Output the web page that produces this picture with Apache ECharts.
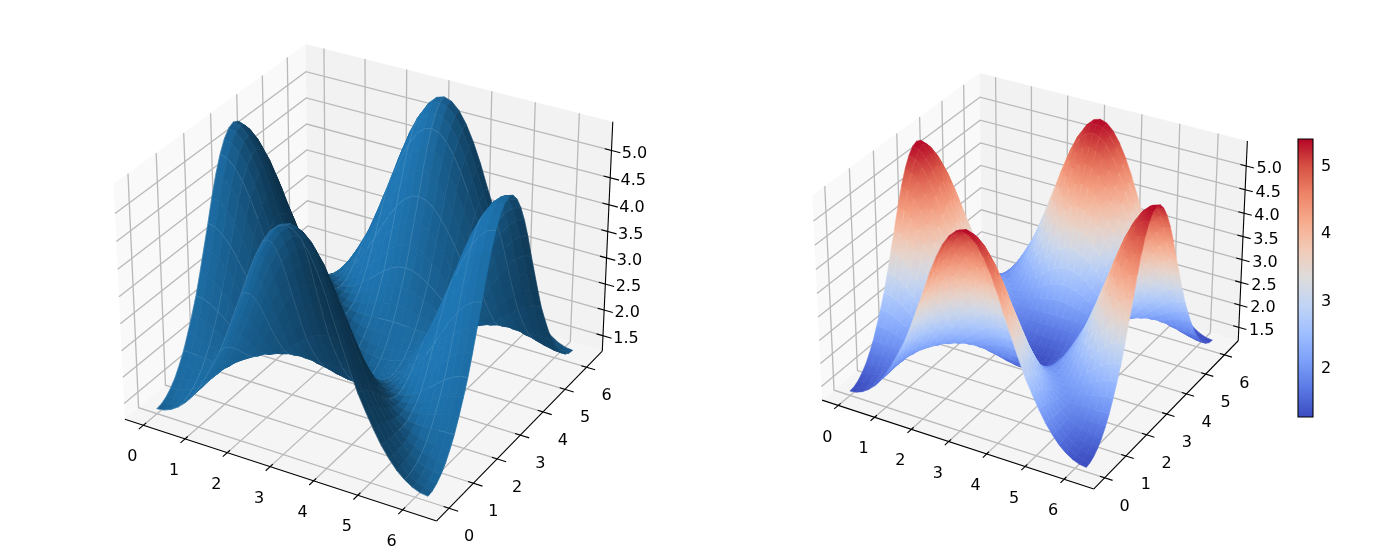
<!DOCTYPE html>
<html><head><meta charset="utf-8">
<style>html,body{margin:0;padding:0;background:#fff}#c{width:1400px;height:560px}</style>
<script src="https://cdn.jsdelivr.net/npm/echarts@6/dist/echarts.min.js"></script></head>
<body><div id="c"></div>
<script>
const xTicks=[0,1,2,3,4,5,6], yTicks=[0,1,2,3,4,5,6], zTicks=[1.5,2,2.5,3,3.5,4,4.5,5];
const zLabels=['1.5','2.0','2.5','3.0','3.5','4.0','4.5','5.0'];
const cbTicks=[2,3,4,5];
const N=37, gridX=[],gridY=[];
for(let i=0;i<N;i++){gridX.push(i/(N-1)*2*Math.PI);gridY.push(i/(N-1)*2*Math.PI);}
const G=[1.29,1.36,1.52,1.78,2.1,2.65,3.4,4.4,5.41];
function gf(p){const t=(p+1)*4,i=Math.min(7,Math.floor(t));return G[i]+(G[i+1]-G[i])*(t-i);}
const zValues=gridY.map(y=>gridX.map(x=>{const s=Math.sin(x)*Math.sin(y),p=-Math.cos(x)*Math.cos(y);return .55*(3.35+2.05*p-1.3*s*s)+.45*gf(p);}));
const XL=[-0.45,6.75],YL=[-0.5,6.75],ZL=[1.2,5.52],CL=[1.29,5.41];
const BX=1.1905,BY=1.1905,BZ=0.8929,DIST=10;
function pr(x,y,z){
  const a=(x-XL[0])/(XL[1]-XL[0])*BX-BX/2,b=(y-YL[0])/(YL[1]-YL[0])*BY-BY/2,c=(z-ZL[0])/(ZL[1]-ZL[0])*BZ-BZ/2;
  const u=.866025*a+.5*b, v=-.25*a+.433013*b+.866025*c, n=.433013*a-.75*b+.5*c, w=DIST-n;
  return [u/w,v/w,n];
}
const CW=[[59,76,192],[89,119,227],[123,159,249],[158,190,255],[192,212,245],[221,220,220],[242,203,183],[247,172,142],[238,132,104],[214,82,68],[180,4,38]];
function cw(z){let t=Math.max(0,Math.min(1,(z-CL[0])/(CL[1]-CL[0])))*10,i=Math.min(9,Math.floor(t)),f=t-i;
  const c=CW[i].map((v,k)=>Math.round(v+(CW[i+1][k]-v)*f));return `rgb(${c[0]},${c[1]},${c[2]})`;}
const cells=[];
for(let j=0;j<N-1;j++)for(let i=0;i<N-1;i++){
  const zm=(zValues[j][i]+zValues[j][i+1]+zValues[j+1][i]+zValues[j+1][i+1])/4;
  cells.push([i,j,pr((gridX[i]+gridX[i+1])/2,(gridY[j]+gridY[j+1])/2,zm)[2]]);
}
cells.sort((p,q)=>p[2]-q[2]);
const panes=[
 {c:'#f9f9f9',p:[[XL[0],YL[0],ZL[0]],[XL[0],YL[1],ZL[0]],[XL[0],YL[1],ZL[1]],[XL[0],YL[0],ZL[1]]]},
 {c:'#f2f2f2',p:[[XL[0],YL[1],ZL[0]],[XL[1],YL[1],ZL[0]],[XL[1],YL[1],ZL[1]],[XL[0],YL[1],ZL[1]]]},
 {c:'#f5f5f5',p:[[XL[0],YL[0],ZL[0]],[XL[1],YL[0],ZL[0]],[XL[1],YL[1],ZL[0]],[XL[0],YL[1],ZL[0]]]}];
const gridSegs=[];
xTicks.forEach(t=>{gridSegs.push([[t,YL[0],ZL[0]],[t,YL[1],ZL[0]],[t,YL[1],ZL[1]]]);});
yTicks.forEach(t=>{gridSegs.push([[XL[1],t,ZL[0]],[XL[0],t,ZL[0]],[XL[0],t,ZL[1]]]);});
zTicks.forEach(t=>{gridSegs.push([[XL[0],YL[0],t],[XL[0],YL[1],t],[XL[1],YL[1],t]]);});
const axisSegs=[
 [[XL[0],YL[0],ZL[0]],[XL[1],YL[0],ZL[0]]],[[XL[1],YL[0],ZL[0]],[XL[1],YL[1],ZL[0]]],[[XL[1],YL[1],ZL[0]],[XL[1],YL[1],ZL[1]]]];
xTicks.forEach(t=>axisSegs.push([[t,YL[0]+.1,ZL[0]],[t,YL[0]-.17,ZL[0]]]));
yTicks.forEach(t=>axisSegs.push([[XL[1]-.12,t,ZL[0]],[XL[1]+.2,t,ZL[0]]]));
zTicks.forEach(t=>axisSegs.push([[XL[1]-.15,YL[1],t],[XL[1]+.2,YL[1],t]]));
const texts=[];
xTicks.forEach(t=>texts.push({t:String(t),w:[t,YL[0],ZL[0]],dx:-11,dy:32}));
yTicks.forEach(t=>texts.push({t:String(t),w:[XL[1],t,ZL[0]],dx:20,dy:29}));
zTicks.forEach((t,i)=>texts.push({t:zLabels[i],w:[XL[1],YL[1],t],dx:23,dy:3}));
const FONT='16px "DejaVu Sans"';
function polySeries(xi,data,render){return {type:'custom',coordinateSystem:'cartesian2d',xAxisIndex:xi,yAxisIndex:xi,clip:false,silent:true,animation:false,progressive:0,data:data.map((d,i)=>[i,0]),renderItem:(p,api)=>render(data[p.dataIndex],api)};}
function pt(api,w){const q=pr(w[0],w[1],w[2]);return api.coord([q[0],q[1]]);}
function panel(xi,mode){
 const out=[];
 out.push(polySeries(xi,panes,(d,api)=>({type:'polygon',shape:{points:d.p.map(w=>pt(api,w))},style:{fill:d.c,stroke:null}})));
 out.push(polySeries(xi,gridSegs,(d,api)=>({type:'polyline',shape:{points:d.map(w=>pt(api,w))},style:{stroke:'#b9b9b9',lineWidth:1.3,fill:null}})));
 out.push(polySeries(xi,axisSegs,(d,api)=>({type:'line',shape:(()=>{const a=pt(api,d[0]),b=pt(api,d[1]);return{x1:a[0],y1:a[1],x2:b[0],y2:b[1]};})(),style:{stroke:'#000',lineWidth:1.1}})));
 out.push(polySeries(xi,texts,(d,api)=>{const a=pt(api,d.w);return{type:'text',style:{text:d.t,x:a[0]+d.dx,y:a[1]+d.dy,font:FONT,fill:'#000',align:'center',verticalAlign:'middle'}};}));
 out.push(polySeries(xi,cells,(d,api)=>{
  const i=d[0],j=d[1];
  const v=[[i,j],[i+1,j],[i+1,j+1],[i,j+1]].map(q=>({w:[gridX[q[0]],gridY[q[1]],zValues[q[1]][q[0]]]}));
  const pts=v.map(o=>pt(api,o.w));
  if(mode==='shade'){
   const dx=gridX[i+1]-gridX[i],dy=gridY[j+1]-gridY[j];
   const zx=(v[1].w[2]+v[2].w[2]-v[0].w[2]-v[3].w[2])/2/dx, zy=(v[3].w[2]+v[2].w[2]-v[0].w[2]-v[1].w[2])/2/dy;
   const l=Math.hypot(zx,zy,1),sh=(-zx*-.6667-zy*-.6667+.3333)/l,f=.3+.7*(sh+1)/2;
   const col=`rgb(${Math.round(31*f)},${Math.round(119*f)},${Math.round(180*f)})`;
   const ch=[{type:'polygon',shape:{points:pts},style:{fill:col,stroke:col,lineWidth:.7}}];
   const ls='rgba(190,220,240,.25)';
   if(i%3===0)ch.push({type:'line',shape:{x1:pts[0][0],y1:pts[0][1],x2:pts[3][0],y2:pts[3][1]},style:{stroke:ls,lineWidth:.6}});
   if(j%3===0)ch.push({type:'line',shape:{x1:pts[0][0],y1:pts[0][1],x2:pts[1][0],y2:pts[1][1]},style:{stroke:ls,lineWidth:.6}});
   return {type:'group',children:ch};
  }
  let hi=0,lo=0;v.forEach((o,k)=>{if(o.w[2]>v[hi].w[2])hi=k;if(o.w[2]<v[lo].w[2])lo=k;});
  const za=v[hi].w[2],zb=v[lo].w[2],zm=(za+zb)/2;
  const g=new echarts.graphic.LinearGradient(pts[hi][0],pts[hi][1],pts[lo][0],pts[lo][1],[{offset:0,color:cw(za)},{offset:1,color:cw(zb)}],true);
  return {type:'polygon',shape:{points:pts},style:{fill:g,stroke:cw(zm),lineWidth:.6}};
 }));
 return out;
}
const P=[{ox:368,oy:271,s:3000},{ox:1034,oy:271,s:2615}];
const RX=.11,RY=.09;
const grids=P.map(p=>({left:p.ox-RX*p.s,top:p.oy-RY*p.s,width:2*RX*p.s,height:2*RY*p.s,containLabel:false}));
grids.push({left:1298,top:139,width:15,height:278});
const xAxes=P.map((p,i)=>({gridIndex:i,type:'value',min:-RX,max:RX,show:false}));
const yAxes=P.map((p,i)=>({gridIndex:i,type:'value',min:-RY,max:RY,show:false}));
xAxes.push({gridIndex:2,type:'value',min:0,max:1,show:false});
yAxes.push({gridIndex:2,type:'value',min:CL[0],max:CL[1],position:'right',splitLine:{show:false},axisLine:{show:false},
 axisTick:{show:true,length:6,customValues:cbTicks,lineStyle:{color:'#000',width:1.1}},
 axisLabel:{show:true,customValues:cbTicks,formatter:v=>String(v),color:'#000',fontFamily:'DejaVu Sans',fontSize:16,margin:8}});
const cbData=[[0,CL[0],1,CL[1]]];
const cbSeries={type:'custom',coordinateSystem:'cartesian2d',xAxisIndex:2,yAxisIndex:2,clip:false,silent:true,animation:false,data:cbData,
 renderItem:(p,api)=>{const a=api.coord([api.value(0),api.value(3)]),b=api.coord([api.value(2),api.value(1)]);
  const st=[];for(let k=0;k<=10;k++)st.push({offset:k/10,color:`rgb(${CW[10-k].join(',')})`});
  return{type:'rect',shape:{x:a[0],y:a[1],width:b[0]-a[0],height:b[1]-a[1]},style:{fill:new echarts.graphic.LinearGradient(0,0,0,1,st),stroke:'#000',lineWidth:1.1}};}};
const chart=echarts.init(document.getElementById('c'),null,{renderer:'canvas'});
chart.setOption({animation:false,backgroundColor:'#fff',grid:grids,xAxis:xAxes,yAxis:yAxes,series:[...panel(0,'shade'),...panel(1,'cmap'),cbSeries]});
</script></body></html>
